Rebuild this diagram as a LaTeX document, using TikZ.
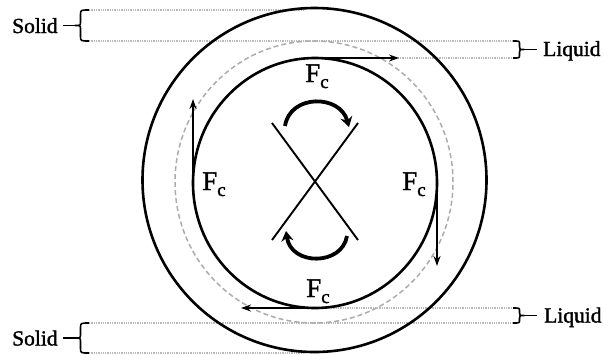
\documentclass[tikz,border=0pt]{standalone}
\usepackage{fontspec}
\setmainfont{Liberation Serif}
\usetikzlibrary{arrows.meta}
\tikzset{
  ring/.style={line width=2.6pt},
  guide/.style={gray!55, line width=1.3pt, densely dotted},
  dashring/.style={gray!65, line width=1.5pt, dash pattern=on 5pt off 3pt},
  bracestyle/.style={line width=1.6pt, line join=round},
  force/.style={line width=2.2pt, -{Stealth[length=10pt,width=7pt]}},
  spin/.style={line width=3.8pt, -{Stealth[length=10pt,width=12pt]}},
  crossline/.style={line width=1.9pt},
  lbl/.style={font=\fontsize{21.5}{24}\selectfont\addfontfeature{FakeBold=1.5}, inner sep=0pt, anchor=base west},
  flbl/.style={font=\fontsize{27}{29}\selectfont\addfontfeature{FakeBold=1.5}, inner sep=0pt, anchor=base west}
}
\newcommand{\Fc}{F\raisebox{-6pt}{\fontsize{19}{20}\selectfont\addfontfeature{FakeBold=1.5}c}}
\begin{document}
\begin{tikzpicture}[x=1pt,y=-1pt]
\useasboundingbox (0,0) rectangle (604,354);
% guide lines
\draw[guide] (89,10) -- (305,10);
\draw[guide] (89,41) -- (513,41);
\draw[guide] (315,58) -- (513,58);
\draw[guide] (315,308) -- (513,308);
\draw[guide] (89,323) -- (513,323);
\draw[guide] (89,353) -- (305,353);
% circles
\draw[ring] (314.5,180) circle [radius=172pt];
\draw[dashring] (314,182) ellipse [x radius=139pt, y radius=141pt];
\draw[ring] (315,183) ellipse [x radius=122pt, y radius=125pt];
% cross
\coordinate (xa) at (272,123);
\coordinate (xb) at (358,240);
\coordinate (xc) at (358,123);
\coordinate (xd) at (272,240);
\draw[crossline] (xa) -- (xb);
\draw[crossline] (xc) -- (xd);
% rotation arrows
\coordinate (s1) at (285,126);
\coordinate (e1) at (349,127);
\coordinate (s2) at (347,236);
\coordinate (e2) at (286,231);
\draw[spin] (s1) .. controls (290,94) and (340,94) .. (e1);
\draw[spin] (s2) .. controls (342,266) and (291,266) .. (e2);
% force arrows
\coordinate (ft0) at (315,58);   \coordinate (ft1) at (399,58);
\coordinate (fr0) at (437,183);  \coordinate (fr1) at (437,266);
\coordinate (fb0) at (315,308);  \coordinate (fb1) at (241,308);
\coordinate (fl0) at (193,183);  \coordinate (fl1) at (193,99);
\draw[force] (ft0) -- (ft1);
\draw[force] (fr0) -- (fr1);
\draw[force] (fb0) -- (fb1);
\draw[force] (fl0) -- (fl1);
\node[flbl] (fct) at (305,82) {\Fc};
\node[flbl] (fcb) at (306,297) {\Fc};
\node[flbl] (fcl) at (202,190) {\Fc};
\node[flbl] (fcr) at (402,190) {\Fc};
% braces left
\coordinate (tl1) at (75,25.5);
\coordinate (tl2) at (75,338);
\draw[bracestyle] (89,10) .. controls (80.5,10) .. (80.5,15) -- (80.5,21.5) .. controls (80.5,25.5) .. (tl1) .. controls (80.5,25.5) .. (80.5,29.5) -- (80.5,36) .. controls (80.5,41) .. (89,41);
\draw[bracestyle] (89,323) .. controls (80.5,323) .. (80.5,328) -- (80.5,334) .. controls (80.5,338) .. (tl2) .. controls (80.5,338) .. (80.5,342) -- (80.5,348) .. controls (80.5,353) .. (89,353);
\node[lbl] (sol1) at (12,33) {Solid};
\node[lbl] (sol2) at (12,345.5) {Solid};
\draw[bracestyle] (tl1) -- (tl1 -| 63,0);
\draw[bracestyle] (tl2) -- (tl2 -| 63,0);
% braces right
\coordinate (tr1) at (524,49.5);
\coordinate (tr2) at (524,315.5);
\draw[bracestyle] (513,41) .. controls (519.5,41) .. (519.5,44) -- (519.5,46.5) .. controls (519.5,49.5) .. (tr1) .. controls (519.5,49.5) .. (519.5,52.5) -- (519.5,55) .. controls (519.5,58) .. (513,58);
\draw[bracestyle] (513,308) .. controls (519.5,308) .. (519.5,311) -- (519.5,312.5) .. controls (519.5,315.5) .. (tr2) .. controls (519.5,315.5) .. (519.5,318.5) -- (519.5,320) .. controls (519.5,323) .. (513,323);
\node[lbl] (liq1) at (543,56) {Liquid};
\node[lbl] (liq2) at (544,322.5) {Liquid};
\draw[bracestyle] (tr1) -- (tr1 -| 537,0);
\draw[bracestyle] (tr2) -- (tr2 -| 537,0);
\end{tikzpicture}
\end{document}
